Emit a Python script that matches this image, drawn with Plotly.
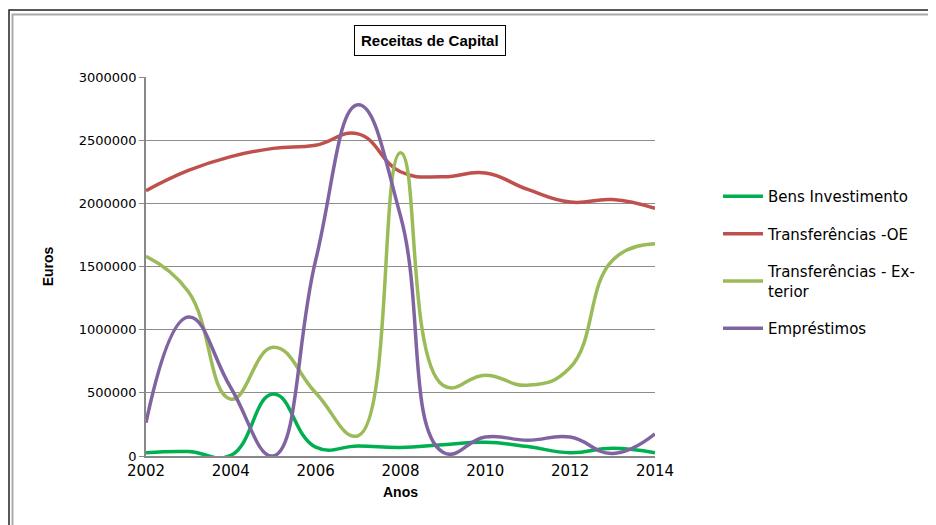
import plotly.graph_objects as go

# ─── Data ─────────────────────────────────────────────────────────────────────
anos = [2002, 2003, 2004, 2005, 2006, 2007, 2008, 2009, 2010, 2011, 2012, 2013, 2014]

bens_investimento = [25000, 35000, 5000, 490000, 70000, 80000, 68000,
                     90000, 108000, 75000, 26000, 62000, 26000]
transf_oe = [2100000, 2260000, 2370000, 2435000, 2460000, 2550000, 2250000,
             2210000, 2240000, 2110000, 2010000, 2030000, 1960000]
transf_exterior = [1580000, 1300000, 450000, 860000, 500000, 160000, 2400000,
                   560000, 640000, 560000, 700000, 1550000, 1680000]
emprestimos = [264000, 1100000, 540000, 0, 1550000, 2780000, 1900000,
               30000, 150000, 125000, 150000, 20000, 175000]

series = [
    ("Bens Investimento", bens_investimento, "#00B050"),
    ("Transferências -OE", transf_oe, "#C0504D"),
    ("Transferências - Ex-<br>terior", transf_exterior, "#9BBB59"),
    ("Empréstimos", emprestimos, "#8064A2"),
]

# page has an 8px body margin: figure pixel = screen pixel - OFF
OFF = 8
W, H = 936 - OFF, 525 - OFF
L, R, T, B = 146 - OFF, 655 - OFF, 77 - OFF, 456 - OFF


def px_x(p):
    return (p - OFF - L) / (R - L)


def px_y(p):
    return (B - (p - OFF)) / (B - T)


fig = go.Figure()
for i, (name, vals, color) in enumerate(series):
    fig.add_trace(go.Scatter(
        x=anos, y=vals, name=name, mode="lines",
        line=dict(color=color, width=3.5, shape="spline", smoothing=1.3),
        legendgroup=f"g{i}",
    ))

label_font = "Liberation Sans, Arial, sans-serif"
tick_font = "DejaVu Sans, Verdana, sans-serif"

fig.update_layout(
    width=W, height=H,
    margin=dict(l=L, r=W - R, t=T, b=H - B, autoexpand=False),
    paper_bgcolor="white", plot_bgcolor="white",
    showlegend=True,
    legend=dict(
        x=px_x(718), y=px_y(180), xanchor="left", yanchor="top",
        font=dict(family=tick_font, size=15, color="#000"),
        tracegroupgap=15, itemwidth=40,
        bgcolor="rgba(0,0,0,0)",
    ),
    xaxis=dict(
        range=[2002, 2014], tickmode="array",
        tickvals=[2002, 2004, 2006, 2008, 2010, 2012, 2014],
        showgrid=False, zeroline=False, automargin=False,
        showline=True, linecolor="#888", linewidth=1.5,
        ticks="", tickfont=dict(family=tick_font, size=15, color="#000"),
        title=dict(text="<b>Anos</b>", font=dict(family=label_font, size=14, color="#000"),
                   standoff=8),
    ),
    yaxis=dict(
        range=[0, 3000000], dtick=500000, tickformat="d",
        showgrid=True, gridcolor="#8c8c8c", gridwidth=1.2,
        zeroline=False, showline=True, linecolor="#888", linewidth=1.5,
        ticks="outside", ticklen=5, tickcolor="#888", automargin=False,
        tickfont=dict(family=tick_font, size=13, color="#000"),
        title=dict(text="<b>Euros</b>", font=dict(family=label_font, size=14, color="#000"),
                   standoff=22),
    ),
    annotations=[dict(
        text="<b>Receitas de Capital</b>", xref="paper", yref="paper",
        x=px_x(430), y=px_y(40), xanchor="center", yanchor="middle",
        showarrow=False, font=dict(family=label_font, size=15, color="#000"),
        bordercolor="#000", borderwidth=1, borderpad=6, bgcolor="white",
    )],
    shapes=[
        dict(type="rect", xref="paper", yref="paper", layer="below",
             x0=px_x(9), x1=px_x(960), y0=px_y(545), y1=px_y(10),
             line=dict(color="#222", width=1.5)),
        dict(type="rect", xref="paper", yref="paper", layer="below",
             x0=px_x(12.5), x1=px_x(960), y0=px_y(545), y1=px_y(14.5),
             line=dict(color="#aaa", width=2)),
    ],
)

fig.write_html("out.html")
